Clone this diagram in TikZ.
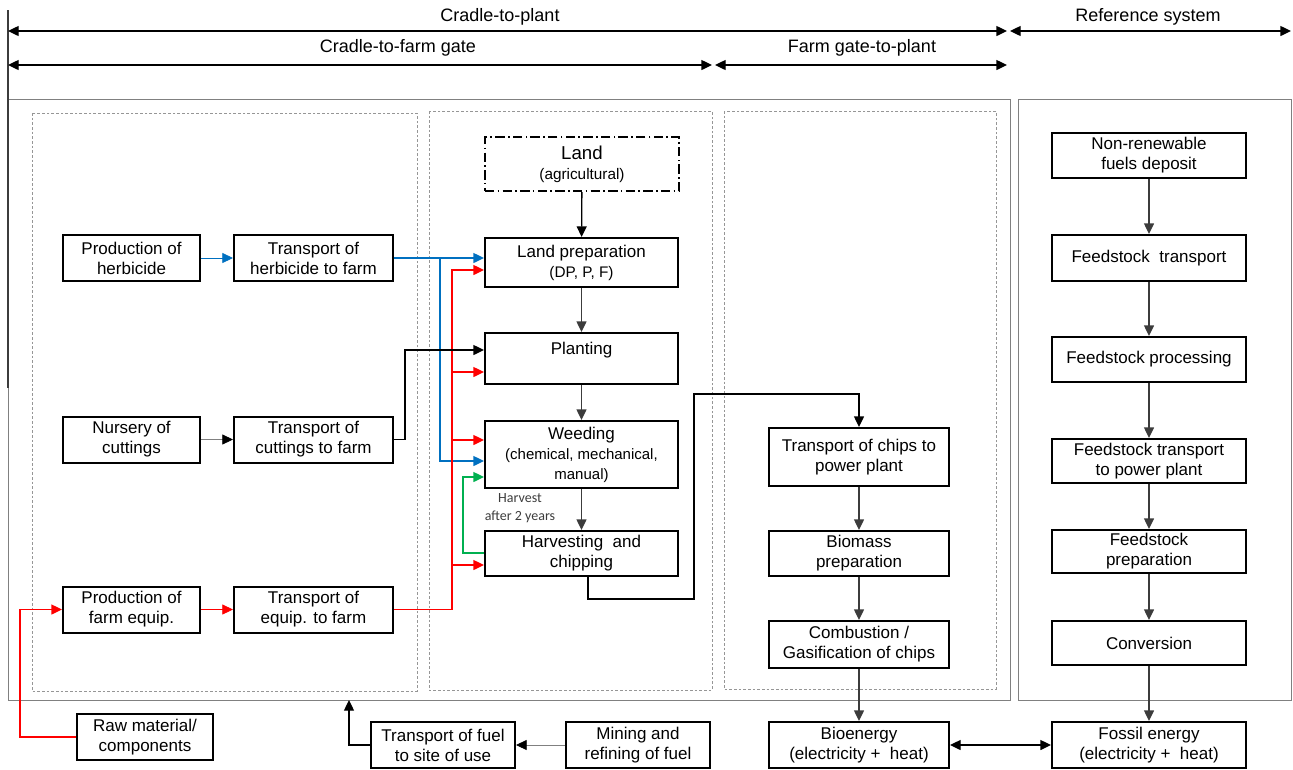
\documentclass[tikz,border=0pt]{standalone}
\usepackage{fontspec}
\setmainfont{Liberation Sans}
\newfontfamily\carl{Carlito}
\usetikzlibrary{arrows.meta,calc}
\definecolor{ablue}{RGB}{0,112,192}
\definecolor{ared}{RGB}{255,0,0}
\definecolor{agreen}{RGB}{0,176,80}
\definecolor{dgray}{RGB}{60,60,60}
\definecolor{lgray}{RGB}{128,128,128}
\definecolor{dshgray}{RGB}{150,150,150}
\begin{document}
\begin{tikzpicture}[x=0.75pt,y=-0.75pt,
  >={Triangle[length=8pt,width=7.5pt]},
  bx/.style={draw=black, line width=1.5pt, align=center, inner sep=0pt, fill=white,
    font=\fontsize{12.75}{15}\selectfont},
  lbox/.style={bx, minimum width=102.75pt, minimum height=34.5pt},
  tbox/.style={bx, minimum width=119.25pt, minimum height=34.5pt},
  mbox/.style={bx, minimum width=144.75pt},
  pbox/.style={bx, minimum width=135pt},
  rbox/.style={bx, minimum width=145.5pt},
  fbox/.style={bx, minimum width=108pt, minimum height=34.5pt},
  conn/.style={line width=1pt, ->},
  dim/.style={line width=1pt, <->},
  toplab/.style={font=\fontsize{13.5}{15}\selectfont, inner sep=0pt},
  outer/.style={draw=lgray, line width=0.6pt},
  dsh/.style={draw=dshgray, line width=0.6pt, dash pattern=on 2pt off 1.5pt},
]
\useasboundingbox (0,0) rectangle (1293,769);

% frames
\draw[outer] (8,99) rectangle (1010,700);
\draw[outer] (1018,99) rectangle (1291,700);
\draw[dsh] (32,113) rectangle (417,691);
\draw[dsh] (429,111) rectangle (712,690);
\draw[dsh] (724,111) rectangle (996,689);
\draw[dgray, line width=1.1pt] (8,10) -- (8,388);

% dimension arrows
\coordinate (cpL) at (8,31);   \coordinate (cpR) at (1007,31);
\coordinate (rsL) at (1010,31); \coordinate (rsR) at (1291,31);
\coordinate (cfL) at (8,65);   \coordinate (cfR) at (712,65);
\coordinate (fgL) at (715,65); \coordinate (fgR) at (1007,65);
\draw[dim] (cpL) -- (cpR);
\draw[dim] (rsL) -- (rsR);
\draw[dim] (cfL) -- (cfR);
\draw[dim] (fgL) -- (fgR);
\node[toplab] (lcp) at (500,17) {Cradle-to-plant};
\node[toplab] (lrs) at (1148,17) {Reference system};
\node[toplab] (lcf) at (398,48) {Cradle-to-farm gate};
\node[toplab] (lfg) at (862,48) {Farm gate-to-plant};

% left column
\node[lbox] (ph) at (131.5,258) {Production of\\herbicide};
\node[tbox] (th) at (313.5,258) {Transport of\\herbicide to farm};
\node[lbox] (nc) at (131.5,439.5) {Nursery of\\cuttings};
\node[tbox] (tc) at (313.5,439.5) {Transport of\\cuttings to farm};
\node[lbox] (pf) at (131.5,609.5) {Production of\\farm equip.};
\node[tbox] (te) at (313.5,609.5) {Transport of\\equip. to farm};
\node[bx, minimum width=102pt, minimum height=34.5pt] (rm) at (145,737) {Raw material/\\components};

% middle column
\node[bx, dash pattern=on 7pt off 2.5pt on 1.2pt off 2.5pt, minimum width=145.5pt, minimum height=40.5pt] (land) at (582,164)
  {{\fontsize{14}{17}\selectfont Land}\\{\fontsize{11.5}{15}\selectfont (agricultural)}};
\node[mbox, minimum height=36.75pt] (lp) at (581.5,262.5) {Land preparation\\{\fontsize{11.5}{14}\selectfont (DP, P, F)}};
\node[mbox, minimum height=38.25pt] (pl) at (581.5,358.5) {Planting\\\mbox{}};
\node[mbox, minimum height=50.25pt] (wd) at (581.5,454.5)
  {Weeding\\{\fontsize{11.25}{13}\selectfont (chemical,\ mechanical,}\\{\fontsize{11.25}{13}\selectfont manual)}};
\node[mbox, minimum height=33.75pt] (hv) at (581.5,553.5) {Harvesting\ \ and\\chipping};
\node[font=\carl\fontsize{10.5}{13.5}\selectfont, text=dgray, align=center, inner sep=0pt] (hl) at (520,508) {Harvest\\after 2 years};

% farm gate to plant column
\node[pbox, minimum height=43.5pt] (tch) at (859,457) {Transport of chips to\\power plant};
\node[pbox, minimum height=33.75pt] (bio) at (859,553.5) {Biomass\\preparation};
\node[pbox, minimum height=35.25pt] (comb) at (859,644.5) {Combustion /\\Gasification of chips};
\node[pbox, minimum height=34.5pt] (be) at (859,745) {Bioenergy\\(electricity +\ \ heat)};

% bottom row
\node[fbox] (tf) at (443,745) {Transport of fuel\\to site of use};
\node[fbox] (mr) at (638,745) {Mining and\\refining of fuel};

% reference system
\node[rbox, minimum height=33.75pt] (nr) at (1149,155.5) {Non-renewable\\fuels deposit};
\node[rbox, minimum height=34.5pt] (ft) at (1149,258) {Feedstock\ \ transport};
\node[rbox, minimum height=33.75pt] (fp) at (1149,359.5) {Feedstock processing};
\node[rbox, minimum height=33pt] (ftp) at (1149,461) {Feedstock transport\\to power plant};
\node[rbox, minimum height=32.25pt] (fpr) at (1149,551.5) {Feedstock\\preparation};
\node[rbox, minimum height=33pt] (conv) at (1149,643) {Conversion};
\node[rbox, minimum height=34.5pt] (fe) at (1149,745) {Fossil energy\\(electricity +\ \ heat)};

% blue connectors
\draw[conn, ablue, line width=0.6pt] (ph) -- (th);
\draw[conn, ablue] (th.east) -- (lp.west |- th.east);
\coordinate (bj) at (440,258);
\draw[conn, ablue] (bj) -- (440,461) -- ($(wd.west)+(0,6.5)$);

% red connectors
\draw[conn, ared, line width=0.6pt] (pf) -- (te);
\draw[conn, ared] (te.east) -- (452,609.5) -- (452,270) -- ($(lp.west)+(0,7.5)$);
\coordinate (rj1) at (452,372);
\coordinate (rj2) at (452,440);
\coordinate (rj3) at (452,565);
\draw[conn, ared] (rj1) -- ($(pl.west)+(0,13.5)$);
\draw[conn, ared] (rj2) -- ($(wd.west)+(0,-14.5)$);
\draw[conn, ared] (rj3) -- ($(hv.west)+(0,11.5)$);
\draw[conn, ared] (rm.west) -- (20,737) -- (20,609.5) -- (pf.west);

% black connectors
\draw[line width=0.6pt, lgray, -{Triangle[length=8pt,width=7.5pt,color=black]}] (nc) -- (tc);
\draw[conn] (tc.east) -- (405,439.5) -- (405,350) -- ($(pl.west)+(0,-8.5)$);
\draw[conn] (land) -- (lp);
\draw[conn, dgray] (lp) -- (pl);
\draw[conn, dgray] (pl) -- (wd);
\draw[conn, dgray] (wd) -- (hv);
\draw[conn, agreen] ($(hv.west)+(0,-0.5)$) -- (463,553) -- (463,477) -- ($(wd.west)+(0,22.5)$);
\draw[conn] ($(hv.south)+(6.5,0)$) -- (588,599) -- (694,599) -- (694,394) -- (859,394) -- (tch.north);
\draw[conn, dgray] (tch) -- (bio);
\draw[conn, dgray] (bio) -- (comb);
\draw[conn, dgray] (comb) -- (be);
\draw[line width=0.6pt, lgray, -{Triangle[length=8pt,width=7.5pt,color=black]}] (mr) -- (tf);
\coordinate (boxb) at (349,700);
\draw[conn] (tf.west) -- (349,745) -- (boxb);
\draw[dim] (be) -- (fe);
\draw[conn, dgray] (nr) -- (ft);
\draw[conn, dgray] (ft) -- (fp);
\draw[conn, dgray] (fp) -- (ftp);
\draw[conn, dgray] (ftp) -- (fpr);
\draw[conn, dgray] (fpr) -- (conv);
\draw[conn, dgray] (conv) -- (fe);
\end{tikzpicture}
\end{document}
